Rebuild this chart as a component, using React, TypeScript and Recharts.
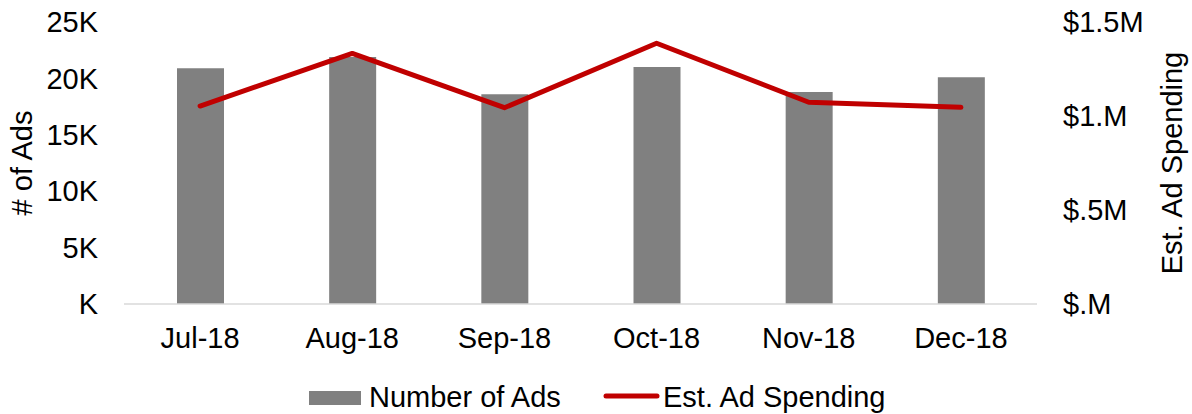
import React from 'react';
import { ComposedChart, Bar, Line, XAxis, YAxis, Legend } from 'recharts';

const months = ['Jul-18', 'Aug-18', 'Sep-18', 'Oct-18', 'Nov-18', 'Dec-18'];
const numberOfAds = [20900, 21900, 18600, 21000, 18800, 20100];
const adSpending = [1053000, 1333000, 1044000, 1387000, 1073000, 1046000];
const leftTicks = [0, 5000, 10000, 15000, 20000, 25000];
const leftTickLabels = ['K', '5K', '10K', '15K', '20K', '25K'];
const rightTicks = [0, 500000, 1000000, 1500000];
const rightTickLabels = ['$.M', '$.5M', '$1.M', '$1.5M'];

const data = months.map((m, i) => ({ month: m, ads: numberOfAds[i], spend: adSpending[i] }));

const FONT = '"Liberation Sans", Arial, sans-serif';
const FS = 29;

const LegendContent = () => (
  <svg width={1192} height={60} style={{ display: 'block' }}>
    <rect x={309} y={37} width={52} height={14} fill="#808080" />
    <text x={369} y={53} fontSize={FS} fontFamily={FONT} fill="#000">Number of Ads</text>
    <line x1={606} y1={42} x2={657} y2={42} stroke="#C00000" strokeWidth={5} strokeLinecap="round" />
    <text x={663} y={53} fontSize={FS} fontFamily={FONT} fill="#000">Est. Ad Spending</text>
  </svg>
);

const LeftTitle = (props: any) => {
  const { viewBox } = props;
  const cx = viewBox.x + 22;
  const cy = viewBox.y + viewBox.height / 2;
  return (
    <text x={cx} y={cy} transform={`rotate(-90, ${cx}, ${cy})`} textAnchor="middle" dominantBaseline="central" fontSize={FS} fontFamily={FONT} fill="#000">
      # of Ads
    </text>
  );
};

const RightTitle = (props: any) => {
  const { viewBox } = props;
  const cx = viewBox.x + 135;
  const cy = viewBox.y + viewBox.height / 2;
  return (
    <text x={cx} y={cy} transform={`rotate(-90, ${cx}, ${cy})`} textAnchor="middle" dominantBaseline="central" fontSize={FS} fontFamily={FONT} fill="#000">
      Est. Ad Spending
    </text>
  );
};

export default function App() {
  return (
    <div style={{ position: 'absolute', left: 0, top: 0, width: 1192, height: 414, background: '#fff' }}>
      <ComposedChart
        width={1192}
        height={414}
        data={data}
        margin={{ top: 22, right: 0, bottom: 0, left: 0 }}
        style={{ fontFamily: FONT }}
      >
        <XAxis
          dataKey="month"
          height={50}
          tickLine={false}
          tickMargin={17}
          axisLine={{ stroke: '#d9d9d9', strokeWidth: 1.5 }}
          tick={{ fill: '#000', fontSize: FS, fontFamily: FONT }}
          interval={0}
        />
        <YAxis
          yAxisId="left"
          orientation="left"
          width={124}
          domain={[0, 25000]}
          ticks={leftTicks}
          tickFormatter={(v: number) => leftTickLabels[leftTicks.indexOf(v)]}
          axisLine={false}
          tickLine={false}
          tickMargin={20}
          tick={{ fill: '#000', fontSize: FS, fontFamily: FONT }}
          label={<LeftTitle />}
        />
        <YAxis
          yAxisId="right"
          orientation="right"
          width={155}
          domain={[0, 1500000]}
          ticks={rightTicks}
          tickFormatter={(v: number) => rightTickLabels[rightTicks.indexOf(v)]}
          axisLine={false}
          tickLine={false}
          tickMargin={20}
          tick={{ fill: '#000', fontSize: FS, fontFamily: FONT, textAnchor: 'start' }}
          label={<RightTitle />}
        />
        <Legend verticalAlign="bottom" height={60} content={<LegendContent />} wrapperStyle={{ left: 0, width: 1192 }} />
        <Bar yAxisId="left" dataKey="ads" name="Number of Ads" fill="#808080" barSize={47} isAnimationActive={false} />
        <Line
          yAxisId="right"
          dataKey="spend"
          name="Est. Ad Spending"
          stroke="#C00000"
          strokeWidth={5}
          strokeLinecap="round"
          strokeLinejoin="round"
          dot={false}
          activeDot={false}
          type="linear"
          isAnimationActive={false}
        />
      </ComposedChart>
    </div>
  );
}
